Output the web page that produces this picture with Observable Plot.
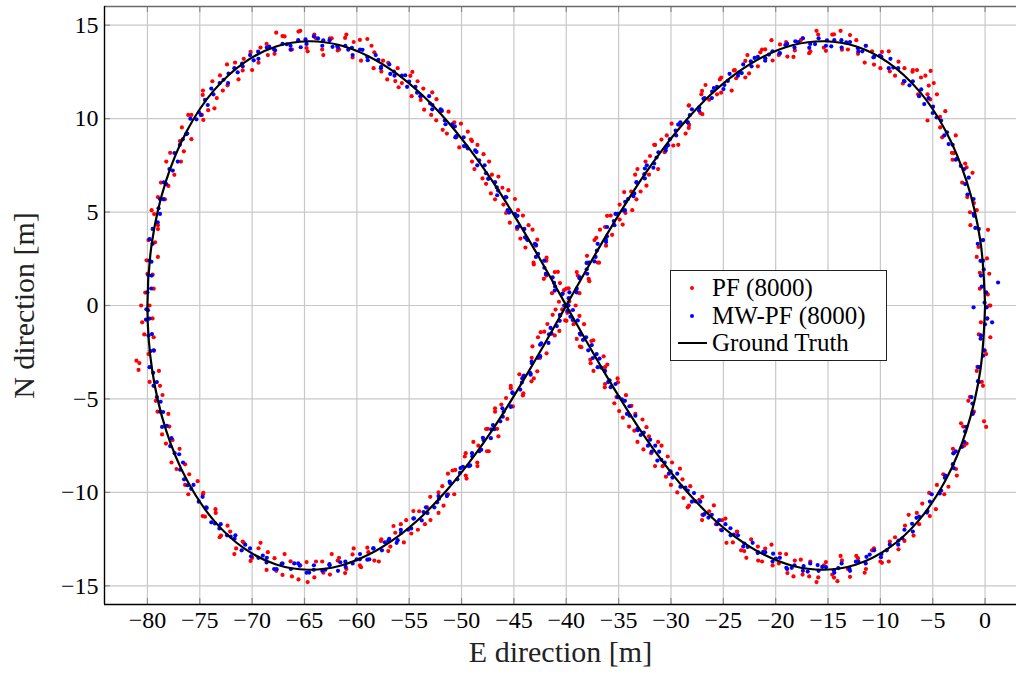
<!DOCTYPE html>
<html><head><meta charset="utf-8">
<script src="https://cdn.jsdelivr.net/npm/d3@7"></script>
<script src="https://cdn.jsdelivr.net/npm/@observablehq/plot@0.6"></script>
<style>
html,body{margin:0;padding:0;background:#fff;}
#wrap{position:relative;width:1016px;height:675px;}
#wrap svg text{font-family:"Liberation Serif","DejaVu Serif","Times New Roman",Tinos,serif !important;}
#legend{position:absolute;left:670px;top:270px;width:215px;height:89px;border:1px solid #222;background:#fff;font-family:"Liberation Serif","DejaVu Serif","Times New Roman",Tinos,serif;font-size:25px;color:#000;}
.row{position:absolute;left:0;height:27px;display:flex;align-items:center;white-space:nowrap;}
.mk{position:relative;width:41px;height:27px;}
</style></head>
<body><div id="wrap"><div id="legend"></div></div>
<script>
const xDomain = [-84.1, 3.0];
const yDomain = [-16, 16];
const xTicks = [-80,-75,-70,-65,-60,-55,-50,-45,-40,-35,-30,-25,-20,-15,-10,-5,0];
const yTicks = [-15,-10,-5,0,5,10,15];
const xLabel = "E direction [m]";
const yLabel = "N direction [m]";
const legendLabels = ["PF (8000)", "MW-PF (8000)", "Ground Truth"];

// Ground truth trajectory (E, N)
const gtE = [0,-0.45,-1.76,-3.79,-6.35,-9.24,-12.29,-15.35,-18.32,-21.14,-23.80,-26.27,-28.57,-30.72,-32.74,-34.64,-36.47,-38.25,-40,
 -41.75,-43.53,-45.36,-47.26,-49.28,-51.43,-53.73,-56.20,-58.86,-61.68,-64.65,-67.71,-70.76,-73.65,-76.21,-78.24,-79.55,-80,
 -79.55,-78.24,-76.21,-73.65,-70.76,-67.71,-64.65,-61.68,-58.86,-56.20,-53.73,-51.43,-49.28,-47.26,-45.36,-43.53,-41.75,-40,
 -38.25,-36.47,-34.64,-32.74,-30.72,-28.57,-26.27,-23.80,-21.14,-18.32,-15.35,-12.29,-9.24,-6.35,-3.79,-1.76,-0.45,0];
const gtN = [0,3.45,6.64,9.37,11.51,13.00,13.86,14.14,13.94,13.33,12.41,11.25,9.90,8.41,6.83,5.17,3.47,1.74,0,
 -1.74,-3.47,-5.17,-6.83,-8.41,-9.90,-11.25,-12.41,-13.33,-13.94,-14.14,-13.86,-13.00,-11.51,-9.37,-6.64,-3.45,0,
 3.45,6.64,9.37,11.51,13.00,13.86,14.14,13.94,13.33,12.41,11.25,9.90,8.41,6.83,5.17,3.47,1.74,0,
 -1.74,-3.47,-5.17,-6.83,-8.41,-9.90,-11.25,-12.41,-13.33,-13.94,-14.14,-13.86,-13.00,-11.51,-9.37,-6.64,-3.45,0];

// PF (8000) estimates [E, N]
const pfPoints = [
[0.26,0.59],[-0.50,1.75],[0.18,2.52],[-0.63,3.13],[0.28,4.05],[-1.44,4.99],[-1.07,5.48],[-2.19,6.58],
[-1.77,7.39],[-3.17,8.17],[-2.98,8.15],[-4.29,9.53],[-3.80,10.40],[-5.24,11.03],[-5.38,11.77],[-6.12,12.20],
[-6.93,12.51],[-7.85,11.88],[-8.27,13.05],[-9.10,12.53],[-9.85,13.57],[-10.61,12.89],[-11.38,13.90],[-12.14,13.47],
[-12.90,14.47],[-13.67,13.69],[-14.43,14.51],[-15.20,13.63],[-15.94,14.50],[-16.69,13.60],[-17.43,14.30],[-18.17,13.65],
[-18.88,13.32],[-19.59,13.97],[-20.29,13.11],[-21.00,13.71],[-21.47,13.55],[-22.54,12.42],[-22.90,13.09],[-23.77,12.16],
[-23.99,12.58],[-25.21,11.39],[-25.33,12.10],[-26.35,11.01],[-27.03,11.48],[-27.01,10.24],[-28.28,10.71],[-28.26,9.67],
[-28.60,9.20],[-29.94,9.73],[-29.78,8.56],[-30.91,8.88],[-31.52,8.59],[-31.23,7.30],[-32.43,7.70],[-32.34,6.41],
[-33.42,7.00],[-33.30,5.68],[-34.47,6.07],[-34.35,4.95],[-34.61,4.33],[-35.76,4.81],[-35.62,3.78],[-36.78,4.06],
[-37.13,3.62],[-36.87,2.29],[-38.02,2.66],[-37.86,1.43],[-39.00,1.79],[-38.74,0.66],[-39.78,0.92],[-39.71,-0.31],
[-6.50,12.60],[-5.70,12.30],[-4.90,11.90],[-4.60,11.30],[-5.20,12.55],
[-41.80,-0.99],[-40.66,-1.36],[-41.02,-0.22],[-39.89,-0.39],[-42.77,-3.52],[-43.23,-2.19],[-41.88,-2.56],[-42.44,-1.43],
[-45.29,-4.43],[-44.14,-4.81],[-44.48,-3.68],[-43.32,-4.06],[-46.48,-7.00],[-46.80,-5.68],[-45.63,-6.07],[-45.75,-4.95],
[-48.48,-8.59],[-48.87,-7.30],[-47.57,-7.80],[-47.66,-6.61],[-50.70,-10.10],[-50.86,-8.83],[-49.52,-9.26],[-49.69,-8.08],
[-52.97,-11.48],[-52.99,-10.24],[-51.72,-10.71],[-51.84,-9.67],[-55.51,-12.68],[-55.29,-11.49],[-54.17,-12.00],[-54.05,-11.01],
[-58.33,-13.65],[-57.66,-12.52],[-57.00,-13.14],[-56.33,-12.16],[-61.12,-14.32],[-60.41,-13.32],[-59.71,-13.91],[-59.00,-12.96],
[-64.06,-14.55],[-63.31,-13.70],[-62.57,-14.40],[-61.83,-13.65],[-67.10,-14.42],[-66.33,-13.69],[-65.57,-14.66],[-64.80,-13.73],
[-70.15,-13.67],[-69.39,-12.99],[-68.62,-14.15],[-67.86,-13.52],[-72.97,-12.31],[-72.35,-11.78],[-71.53,-13.00],[-70.90,-12.63],
[-76.10,-10.10],[-74.66,-10.03],[-74.72,-11.27],[-73.48,-11.10],[-78.23,-7.39],[-76.93,-7.67],[-77.22,-8.75],[-76.01,-9.03],
[-79.79,-4.09],[-78.56,-4.79],[-79.03,-5.68],[-77.91,-6.48],[-79.51,-0.69],[-80.30,-1.55],[-79.38,-2.42],[-80.77,-3.08],
[-81.05,-2.95],[-80.85,-3.45],
[-80.21,0.69],[-79.50,1.65],[-80.08,2.42],[-79.27,3.38],[-78.99,4.09],[-79.36,4.89],[-78.33,5.68],[-78.71,6.58],
[-77.43,6.99],[-77.83,8.17],[-76.52,8.25],[-76.71,9.53],[-76.10,10.20],[-74.66,9.93],[-74.72,11.27],[-73.38,11.10],
[-74.20,10.45],[-73.60,10.55],
[-73.07,12.31],[-72.35,11.78],[-71.63,13.00],[-70.90,12.58],[-70.15,13.57],[-69.39,12.99],[-68.62,14.00],[-67.86,13.47],
[-67.10,14.42],[-66.33,13.69],[-65.57,14.66],[-64.80,13.78],[-64.06,14.50],[-63.31,13.70],[-62.57,14.30],[-61.83,13.65],
[-61.12,14.32],[-60.41,13.27],[-59.71,14.21],[-59.00,14.26],[-58.33,13.55],[-57.66,12.52],[-57.00,12.99],[-56.33,12.01],
[-56.01,11.68],[-54.89,12.29],[-54.77,11.20],[-53.65,11.61],[-53.57,10.48],[-52.39,11.04],[-52.42,9.91],[-51.24,10.37],
[-51.40,9.20],[-50.06,9.73],[-50.22,8.46],[-49.09,8.88],[-48.48,8.59],[-48.77,7.30],[-47.37,7.70],[-47.66,6.51],
[-46.48,6.90],[-46.80,5.68],[-45.53,6.17],[-45.75,4.95],[-45.39,4.43],[-44.14,4.81],[-44.38,3.58],[-43.22,4.06],
[-42.77,3.52],[-43.13,2.29],[-41.88,2.56],[-42.14,1.43],[-41.10,1.79],[-41.36,0.66],[-40.22,0.82],[-40.39,-0.21],
[-39.00,-1.79],[-38.74,-0.56],[-39.98,-0.82],[-39.71,0.21],[-36.43,-2.72],[-37.67,-3.09],[-37.42,-1.86],[-38.56,-2.23],
[-35.41,-5.23],[-35.06,-4.11],[-36.32,-4.38],[-36.08,-3.16],[-32.72,-6.10],[-34.00,-6.48],[-33.77,-5.37],[-34.95,-5.65],
[-31.52,-8.59],[-31.23,-7.30],[-32.63,-7.70],[-32.34,-6.51],[-29.40,-10.00],[-29.14,-8.73],[-30.48,-9.16],[-30.31,-8.08],
[-27.03,-11.48],[-27.01,-10.24],[-28.28,-10.71],[-28.16,-9.67],[-24.09,-12.68],[-25.11,-11.49],[-25.23,-12.00],[-26.35,-11.01],
[-21.67,-13.65],[-22.34,-12.52],[-23.00,-13.14],[-23.67,-12.11],[-18.88,-14.32],[-19.59,-13.27],[-20.29,-13.91],[-21.00,-13.01],
[-15.94,-14.55],[-16.69,-13.70],[-17.43,-14.40],[-18.17,-13.65],[-12.90,-14.52],[-13.67,-13.64],[-14.43,-14.56],[-15.20,-13.73],
[-14.10,-14.75],
[-9.85,-13.77],[-10.61,-12.99],[-11.38,-14.10],[-12.14,-13.52],[-6.83,-12.31],[-7.65,-11.78],[-8.27,-13.05],[-9.10,-12.63],
[-3.90,-10.10],[-5.34,-10.03],[-5.28,-11.27],[-6.52,-11.10],[-1.77,-7.39],[-3.07,-7.67],[-2.78,-8.75],[-3.99,-9.03],
[-0.31,-4.09],[-1.44,-4.89],[-1.07,-5.68],[-2.09,-6.48],[-0.10,-6.20],[0.10,-6.50],
[0.21,-0.69],[-0.60,-1.55],[-0.02,-2.42],[-0.73,-3.28],
[0.5,0.0],[-0.5,0.9],[0.4,1.7],[-0.8,2.6],[-0.2,3.5],[-1.4,4.3],[-0.8,5.1],[-1.7,5.8],
[-1.2,7.1],[-1.9,7.6],[-3.1,7.8],[-2.8,9.1],[-4.1,9.0],[-4.3,10.1],[-5.5,9.9],[-5.5,11.3],
[-6.4,11.3],[-6.9,12.6],[-7.7,12.7],[-8.6,12.3],[-9.2,13.6],[-10.0,12.7],[-10.8,13.6],[-11.5,13.0],
[-12.3,14.2],[-13.1,13.7],[-13.8,14.7],[-14.6,14.5],[-15.4,13.8],[-16.1,14.7],[-16.8,13.5],[-17.6,14.2],
[-18.3,13.3],[-19.0,14.1],[-19.7,13.4],[-20.4,14.2],[-21.3,13.7],[-21.7,12.8],[-22.7,13.4],[-22.9,12.2],
[-23.9,12.6],[-24.2,11.5],[-25.2,12.2],[-25.6,11.3],[-26.7,11.8],[-27.1,11.3],[-27.2,10.3],[-28.3,10.7],
[-28.3,9.5],[-29.2,9.7],[-29.3,8.6],[-30.4,9.1],[-30.6,8.2],[-31.6,8.6],[-32.0,8.0],[-32.1,7.0],
[-33.2,7.3],[-32.9,6.1],[-33.8,6.1],[-33.7,5.1],[-34.9,5.4],[-34.9,4.6],[-36.1,4.8],[-36.3,4.2],
[-36.2,3.2],[-37.3,3.5],[-37.0,2.3],[-38.0,2.3],[-37.8,1.3],[-38.9,1.6],[-39.0,0.7],[-40.0,0.9],
[-79.8,0.0],[-80.5,-0.9],[-79.4,-1.7],[-79.9,-2.6],[-78.9,-3.5],[-78.8,-4.3],[-79.2,-5.1],[-78.0,-5.8],
[-78.6,-6.9],[-77.6,-7.2],[-77.7,-8.4],[-76.4,-8.5],[-76.4,-9.6],[-75.2,-9.4],[-74.7,-10.1],[-74.5,-11.3],
[-73.5,-10.9],[-73.1,-12.4],[-72.1,-12.1],[-71.7,-13.3],[-70.8,-12.7],[-70.0,-13.5],[-69.2,-12.7],[-68.5,-13.2],
[-67.7,-14.2],[-66.9,-13.3],[-66.2,-14.5],[-65.4,-13.9],[-64.7,-14.8],[-63.9,-13.7],[-63.2,-14.3],[-62.4,-13.3],
[-61.7,-13.5],[-61.0,-14.1],[-60.3,-13.0],[-59.6,-14.0],[-58.9,-13.2],[-57.9,-13.7],[-57.7,-12.6],[-56.8,-12.9],
[-56.5,-11.8],[-55.8,-11.7],[-54.8,-12.2],[-54.6,-11.0],[-53.5,-11.7],[-53.3,-10.8],[-52.2,-11.1],[-52.2,-10.0],
[-51.3,-10.1],[-51.3,-9.0],[-50.6,-8.8],[-49.6,-9.1],[-49.6,-7.9],[-48.5,-8.4],[-48.4,-7.5],[-47.4,-7.8],
[-47.5,-6.6],[-46.6,-6.6],[-46.8,-5.5],[-46.2,-5.3],[-45.1,-5.4],[-45.3,-4.3],[-44.1,-4.7],[-44.1,-3.8],
[-43.1,-3.9],[-43.3,-2.8],[-42.5,-2.8],[-42.7,-1.7],[-42.1,-1.4],[-41.1,-1.6],[-41.3,-0.5],[-40.1,-0.8],
[-80.6,0.0],[-79.4,0.9],[-80.0,1.7],[-79.0,2.6],[-79.9,3.5],[-79.0,4.3],[-79.6,5.1],[-79.0,5.8],
[-78.0,6.4],[-78.2,7.7],[-76.8,7.7],[-76.9,8.8],[-75.8,8.9],[-75.8,10.2],[-74.8,10.2],[-74.7,11.5],
[-73.8,12.0],[-72.8,11.5],[-72.4,12.9],[-71.3,12.1],[-70.8,13.2],[-70.0,12.6],[-69.2,13.8],[-68.5,13.4],
[-67.7,14.6],[-66.9,14.4],[-66.2,13.7],[-65.4,14.7],[-64.7,13.6],[-63.9,14.3],[-63.2,13.4],[-62.4,14.3],
[-61.7,13.7],[-61.0,14.5],[-60.3,14.1],[-59.6,13.1],[-58.6,13.9],[-58.4,12.7],[-57.5,13.1],[-57.1,12.1],
[-56.1,12.7],[-55.7,11.9],[-54.7,12.5],[-54.2,12.0],[-53.9,11.0],[-52.8,11.4],[-52.9,10.2],[-51.9,10.4],
[-51.8,9.4],[-50.7,9.8],[-50.5,9.0],[-49.4,9.3],[-49.0,8.8],[-49.0,7.7],[-47.9,8.1],[-48.0,6.8],
[-47.1,7.0],[-47.2,6.0],[-46.1,6.3],[-46.0,5.4],[-44.9,5.7],[-44.6,5.1],[-44.7,4.1],[-43.6,4.3],
[-43.9,3.1],[-42.9,3.2],[-43.1,2.2],[-41.9,2.4],[-41.9,1.6],[-40.8,1.8],[-40.6,1.2],[-40.7,0.2],
[0.4,0.0],[-0.4,-0.9],[0.5,-1.7],[0.1,-2.6],[-0.8,-3.5],[-0.2,-4.3],[-1.6,-5.1],[-1.2,-5.8],
[-2.3,-6.3],[-2.0,-7.5],[-3.0,-7.9],[-2.7,-9.1],[-3.5,-9.7],[-4.6,-9.6],[-4.7,-10.9],[-6.0,-10.6],
[-6.3,-11.7],[-7.3,-11.2],[-7.7,-12.6],[-8.6,-12.4],[-9.2,-13.7],[-10.0,-13.7],[-10.8,-13.1],[-11.5,-14.3],
[-12.3,-13.4],[-13.1,-14.1],[-13.8,-13.4],[-14.6,-14.4],[-15.4,-13.9],[-16.1,-14.8],[-16.8,-14.5],[-17.6,-13.6],
[-18.3,-14.5],[-19.0,-13.3],[-19.7,-13.8],[-20.4,-12.8],[-21.3,-13.7],[-21.7,-12.9],[-22.8,-13.5],[-23.3,-13.1],
[-23.7,-12.1],[-24.7,-12.7],[-24.8,-11.4],[-25.7,-11.7],[-25.9,-10.7],[-27.0,-11.2],[-27.3,-10.4],[-28.4,-10.8],
[-28.8,-10.3],[-28.9,-9.3],[-30.0,-9.6],[-29.9,-8.4],[-30.8,-8.6],[-30.9,-7.5],[-31.9,-7.9],[-32.1,-7.0],
[-33.2,-7.3],[-33.5,-6.7],[-33.4,-5.8],[-34.6,-6.0],[-34.3,-4.8],[-35.2,-4.9],[-35.1,-3.9],[-36.3,-4.2],
[-36.3,-3.3],[-37.4,-3.5],[-37.7,-2.9],[-37.6,-1.9],[-38.7,-2.2],[-38.3,-1.0],[-39.3,-1.0],[-39.1,0.0]
];

// MW-PF (8000) estimates [E, N]
const mwPoints = [
[0.15,-0.10],[-0.31,1.01],[-0.13,1.93],[-0.44,2.39],[-0.20,3.50],[-0.93,4.15],[-1.06,4.80],[-1.68,5.94],
[-1.56,6.84],[-2.32,7.47],[-2.68,7.86],[-3.48,8.64],[-3.64,9.27],[-4.63,10.06],[-4.97,10.64],[-5.81,10.78],
[-6.10,11.56],[-7.22,11.78],[-7.75,12.01],[-8.77,12.73],[-9.04,13.20],[-10.05,13.37],[-10.67,13.28],[-11.73,13.60],
[-12.14,13.76],[-13.26,14.08],[-13.72,14.20],[-14.69,13.87],[-15.10,14.19],[-16.24,13.99],[-16.79,13.79],[-17.83,14.09],
[-18.12,14.14],[-19.08,13.94],[-19.63,13.49],[-20.64,13.43],[-20.99,13.23],[-22.01,13.25],[-22.37,13.07],[-23.24,12.44],
[-23.55,12.46],[-24.57,12.02],[-24.99,11.58],[-25.90,11.64],[-26.07,11.45],[-26.90,11.06],[-27.32,10.43],[-28.20,10.19],
[-28.42,9.80],[-29.31,9.68],[-29.55,9.36],[-30.28,8.58],[-30.47,8.46],[-31.38,7.92],[-31.68,7.37],[-32.49,7.33],
[-32.54,7.03],[-33.27,6.57],[-33.59,5.85],[-34.37,5.54],[-34.49,5.07],[-35.30,4.90],[-35.46,4.52],[-36.11,3.70],
[-36.22,3.52],[-37.07,2.94],[-37.31,2.36],[-38.06,2.27],[-38.05,1.94],[-38.74,1.46],[-39.03,0.72],[-39.76,0.39],
[-79.95,-0.25],[-80.14,-0.76],[-79.57,-1.53],[-79.71,-2.44],[-79.45,-3.60],[-79.42,-4.30],[-78.74,-5.15],[-78.77,-5.69],
[-78.14,-6.44],[-77.83,-7.52],[-76.97,-7.96],[-76.87,-8.79],[-76.16,-9.62],[-75.82,-9.81],[-74.73,-10.24],[-74.34,-10.83],
[-73.55,-11.66],[-73.13,-11.93],[-72.05,-12.36],[-71.68,-12.48],[-70.66,-12.80],[-70.10,-13.42],[-68.98,-13.38],[-68.62,-13.75],
[-67.66,-14.11],[-67.19,-13.83],[-65.98,-13.80],[-65.46,-13.92],[-64.55,-14.29],[-64.11,-14.14],[-63.01,-14.14],[-62.62,-13.84],
[-61.58,-13.74],[-61.07,-13.99],[-60.02,-13.59],[-59.71,-13.58],[-58.81,-13.58],[-58.44,-13.00],[-57.33,-12.67],[-56.91,-12.49],
[-56.10,-12.56],[-55.78,-12.17],[-54.81,-11.93],[-54.55,-11.39],[-53.63,-11.05],[-53.25,-11.11],[-52.33,-10.53],[-52.15,-10.34],
[-51.38,-10.15],[-51.14,-9.43],[-50.15,-8.96],[-49.87,-8.63],[-49.18,-8.56],[-48.97,-8.07],[-48.12,-7.72],[-47.96,-7.08],
[-47.16,-6.63],[-46.88,-6.62],[-46.06,-5.95],[-45.98,-5.69],[-45.31,-5.42],[-45.15,-4.65],[-44.24,-4.12],[-44.04,-3.75],
[-43.43,-3.62],[-43.28,-3.09],[-42.49,-2.71],[-42.39,-2.02],[-41.65,-1.54],[-41.41,-1.51],[-40.62,-0.82],[-40.59,-0.54],
[-80.10,-0.20],[-79.64,0.91],[-79.92,1.63],[-79.61,2.34],[-79.80,3.55],[-79.02,4.45],[-78.94,5.20],[-78.47,5.69],
[-78.44,6.59],[-77.58,7.22],[-77.42,8.16],[-76.62,8.89],[-76.31,9.17],[-75.32,9.96],[-75.08,10.34],[-74.24,10.73],
[-73.90,11.61],[-72.73,12.08],[-72.25,12.41],[-71.38,12.48],[-70.96,12.95],[-69.85,13.12],[-69.43,13.58],[-68.37,13.85],
[-67.81,13.66],[-66.69,13.98],[-66.33,13.90],[-65.36,13.82],[-64.90,14.24],[-63.71,14.29],[-63.21,14.19],[-62.32,13.84],
[-61.88,13.89],[-60.82,13.69],[-60.47,13.79],[-59.46,13.68],[-58.96,13.13],[-57.94,13.15],[-57.68,12.77],[-56.81,12.39],
[-56.45,12.51],[-55.38,12.32],[-55.01,11.98],[-54.25,11.39],[-53.93,11.20],[-53.00,10.81],[-52.78,10.73],[-51.90,10.44],
[-51.53,9.70],[-50.64,9.58],[-50.50,9.06],[-49.77,8.53],[-49.53,8.51],[-48.57,8.22],[-48.32,7.77],[-47.66,7.08],
[-47.46,6.78],[-46.63,6.32],[-46.51,6.15],[-45.73,5.79],[-45.46,4.97],[-44.65,4.80],[-44.59,4.22],[-43.94,3.65],
[-43.78,3.57],[-42.88,3.24],[-42.69,2.76],[-42.09,2.02],[-41.95,1.69],[-41.16,1.21],[-41.07,1.02],[-40.34,0.64],
[-0.05,0.15],[-0.01,-1.01],[-0.43,-1.78],[-0.19,-2.69],[-0.65,-3.30],[-0.68,-4.05],[-1.21,-5.25],[-1.18,-5.79],
[-1.91,-6.74],[-2.22,-7.57],[-3.03,-7.91],[-3.08,-8.49],[-3.84,-9.22],[-4.33,-10.06],[-5.27,-10.49],[-5.56,-11.08],
[-6.55,-11.36],[-6.97,-11.68],[-7.90,-12.46],[-8.27,-12.58],[-9.39,-13.10],[-9.95,-13.47],[-11.02,-13.33],[-11.33,-13.45],
[-12.34,-13.71],[-12.96,-14.08],[-14.02,-14.05],[-14.44,-14.17],[-15.55,-13.99],[-15.99,-13.89],[-16.94,-14.24],[-17.33,-13.94],
[-18.47,-14.04],[-18.98,-14.04],[-19.98,-13.54],[-20.24,-13.28],[-21.19,-13.18],[-21.71,-13.25],[-22.67,-12.92],[-22.99,-12.74],
[-24.00,-12.26],[-24.32,-11.92],[-25.14,-12.03],[-25.40,-11.49],[-26.42,-11.35],[-26.80,-11.16],[-27.67,-10.48],[-27.80,-10.04],
[-28.62,-9.75],[-29.01,-9.68],[-29.85,-9.21],[-30.03,-8.88],[-30.92,-8.26],[-31.13,-7.82],[-31.83,-7.82],[-31.99,-7.18],
[-32.89,-6.93],[-33.17,-6.67],[-33.94,-5.90],[-33.97,-5.39],[-34.69,-5.02],[-35.00,-4.90],[-35.76,-4.37],[-35.86,-4.00],
[-36.67,-3.32],[-36.82,-2.84],[-37.46,-2.81],[-37.56,-2.12],[-38.40,-1.84],[-38.64,-1.56],[-39.38,-0.77],[-39.36,-0.24],
[1.24,1.23],[0.67,-0.90],[-1.10,-0.10],
[0.1,0.7],[-0.4,1.6],[-0.2,2.4],[-0.7,3.3],[-0.6,4.1],[-1.1,4.9],[-1.1,5.7],[-1.9,6.5],
[-2.0,7.3],[-2.8,7.8],[-3.1,8.6],[-3.9,9.1],[-4.2,9.9],[-5.0,10.3],[-5.4,11.1],[-6.3,11.2],
[-6.9,12.0],[-7.7,12.0],[-8.3,12.7],[-9.2,12.7],[-9.9,13.3],[-10.6,13.3],[-11.4,13.9],[-12.1,13.6],
[-12.9,14.1],[-13.7,13.8],[-14.4,14.2],[-15.2,13.9],[-15.9,14.3],[-16.7,14.0],[-17.4,14.3],[-18.2,13.8],
[-18.9,14.0],[-19.6,13.5],[-20.3,13.6],[-21.0,13.1],[-21.7,13.3],[-22.3,12.8],[-23.1,12.9],[-23.6,12.3],
[-24.4,12.4],[-24.9,11.8],[-25.6,11.7],[-26.1,11.1],[-26.8,11.1],[-27.3,10.6],[-28.0,10.5],[-28.4,9.8],
[-29.1,9.8],[-29.5,9.1],[-30.1,8.9],[-30.5,8.3],[-31.2,8.2],[-31.6,7.6],[-32.3,7.5],[-32.5,6.8],
[-33.3,6.6],[-33.5,6.0],[-34.1,5.7],[-34.4,5.1],[-35.1,4.9],[-35.4,4.3],[-36.1,4.2],[-36.2,3.4],
[-37.0,3.3],[-37.2,2.6],[-37.8,2.3],[-38.0,1.7],[-38.7,1.5],[-39.0,0.9],[-39.7,0.7],[-39.8,0.0],
[-79.8,-0.7],[-79.9,-1.6],[-79.4,-2.4],[-79.8,-3.3],[-79.1,-4.1],[-79.1,-4.9],[-78.5,-5.7],[-78.6,-6.5],
[-77.7,-7.1],[-77.4,-7.9],[-76.6,-8.4],[-76.5,-9.3],[-75.6,-9.6],[-75.1,-10.5],[-74.4,-10.8],[-73.9,-11.6],
[-73.0,-11.7],[-72.4,-12.3],[-71.6,-12.3],[-71.0,-13.1],[-70.2,-13.0],[-69.4,-13.5],[-68.6,-13.5],[-67.9,-14.1],
[-67.1,-13.8],[-66.3,-14.1],[-65.6,-13.8],[-64.8,-14.3],[-64.1,-13.9],[-63.3,-14.2],[-62.6,-13.9],[-61.8,-14.2],
[-61.1,-13.7],[-60.4,-13.8],[-59.7,-13.3],[-59.0,-13.6],[-58.4,-13.0],[-57.6,-13.1],[-57.0,-12.6],[-56.2,-12.7],
[-55.8,-12.0],[-55.1,-12.0],[-54.6,-11.4],[-53.8,-11.5],[-53.4,-10.8],[-52.6,-10.8],[-52.2,-10.2],[-51.4,-10.2],
[-51.1,-9.5],[-50.4,-9.3],[-50.1,-8.7],[-49.3,-8.6],[-49.0,-7.9],[-48.3,-7.8],[-47.9,-7.2],[-47.2,-7.1],
[-47.0,-6.4],[-46.3,-6.2],[-46.1,-5.5],[-45.3,-5.4],[-45.1,-4.7],[-44.4,-4.5],[-44.2,-3.9],[-43.4,-3.7],
[-43.3,-3.0],[-42.7,-2.8],[-42.5,-2.1],[-41.7,-2.0],[-41.5,-1.2],[-40.9,-1.1],[-40.6,-0.5],[-39.9,-0.3],
[-80.0,0.7],[-79.6,1.6],[-79.8,2.4],[-79.5,3.3],[-79.5,4.1],[-78.8,4.9],[-78.8,5.7],[-78.2,6.5],
[-77.9,7.3],[-77.1,7.7],[-76.9,8.6],[-76.2,9.2],[-75.9,10.0],[-74.9,10.2],[-74.5,11.0],[-73.7,11.3],
[-73.1,11.9],[-72.3,11.9],[-71.7,12.7],[-70.9,12.8],[-70.2,13.4],[-69.4,13.2],[-68.6,13.8],[-67.9,13.7],
[-67.1,14.0],[-66.3,13.7],[-65.6,14.2],[-64.8,14.0],[-64.1,14.4],[-63.3,13.9],[-62.6,14.2],[-61.8,13.8],
[-61.1,13.9],[-60.4,13.4],[-59.7,13.7],[-59.0,13.3],[-58.2,13.4],[-57.7,12.7],[-56.9,12.9],[-56.4,12.3],
[-55.7,12.3],[-55.2,11.7],[-54.4,11.7],[-53.9,11.2],[-53.1,11.2],[-52.8,10.5],[-52.0,10.5],[-51.6,9.9],
[-50.9,9.7],[-50.6,9.0],[-49.8,9.0],[-49.4,8.4],[-48.7,8.3],[-48.5,7.5],[-47.8,7.5],[-47.4,6.8],
[-46.8,6.6],[-46.6,5.9],[-45.8,5.8],[-45.6,5.1],[-44.9,4.9],[-44.7,4.2],[-44.0,4.1],[-43.7,3.5],
[-43.0,3.3],[-42.9,2.6],[-42.1,2.4],[-41.9,1.7],[-41.3,1.5],[-41.1,0.8],[-40.4,0.6],[-40.2,0.0],
[0.2,-0.7],[-0.4,-1.6],[-0.1,-2.4],[-0.6,-3.3],[-0.6,-4.1],[-1.3,-4.9],[-1.2,-5.7],[-1.8,-6.5],
[-2.0,-7.3],[-2.8,-7.8],[-3.0,-8.7],[-3.8,-9.1],[-4.2,-9.9],[-5.1,-10.1],[-5.5,-11.0],[-6.3,-11.3],
[-6.9,-12.1],[-7.7,-12.0],[-8.3,-12.8],[-9.1,-12.8],[-9.9,-13.3],[-10.6,-13.1],[-11.4,-13.8],[-12.1,-13.7],
[-12.9,-14.2],[-13.7,-13.8],[-14.4,-14.3],[-15.2,-14.0],[-15.9,-14.2],[-16.7,-13.8],[-17.4,-14.2],[-18.2,-13.9],
[-18.9,-14.1],[-19.6,-13.5],[-20.3,-13.7],[-21.0,-13.2],[-21.7,-13.2],[-22.2,-12.7],[-23.1,-12.9],[-23.6,-12.3],
[-24.3,-12.3],[-24.8,-11.7],[-25.6,-11.7],[-26.1,-11.2],[-26.9,-11.2],[-27.2,-10.5],[-28.0,-10.5],[-28.4,-9.9],
[-29.1,-9.7],[-29.4,-9.0],[-30.2,-9.0],[-30.6,-8.4],[-31.3,-8.3],[-31.5,-7.5],[-32.2,-7.5],[-32.6,-6.8],
[-33.2,-6.6],[-33.4,-5.9],[-34.2,-5.8],[-34.4,-5.1],[-35.1,-4.9],[-35.3,-4.2],[-36.0,-4.1],[-36.3,-3.5],
[-37.0,-3.3],[-37.1,-2.6],[-37.9,-2.4],[-38.1,-1.7],[-38.7,-1.5],[-38.9,-0.8],[-39.6,-0.6],[-39.8,0.0]
];

const colors = {pf: "#ff0000", mw: "#0000ff", gt: "#000000"};
const gt = gtE.map((e, i) => ({e, n: gtN[i]}));
const font = "'Liberation Serif', 'DejaVu Serif', 'Times New Roman', Tinos, serif";

const chart = Plot.plot({
  width: 1016, height: 675,
  marginLeft: 104, marginRight: 0, marginTop: 6, marginBottom: 71,
  x: {domain: xDomain},
  y: {domain: yDomain},
  style: {fontFamily: font, fontSize: "24px", color: "#000", background: "#fff"},
  marks: [
    Plot.ruleX(xTicks, {stroke: "#c8c8c8", strokeWidth: 1.2}),
    Plot.ruleY(yTicks, {stroke: "#c8c8c8", strokeWidth: 1.2}),
    Plot.ruleX(xTicks, {stroke: "#8c8c8c", strokeWidth: 1.2, insetTop: 592}),
    Plot.ruleX(xTicks, {stroke: "#8c8c8c", strokeWidth: 1.2, insetBottom: 592}),
    Plot.ruleY(yTicks, {stroke: "#8c8c8c", strokeWidth: 1.2, insetRight: 906}),
    Plot.dot(pfPoints, {x: d => d[0], y: d => d[1], r: 2.1, fill: colors.pf, stroke: null}),
    Plot.dot(mwPoints, {x: d => d[0], y: d => d[1], r: 2.1, fill: colors.mw, stroke: null}),
    Plot.line(gt, {x: "e", y: "n", curve: "catmull-rom", stroke: colors.gt, strokeWidth: 2.2}),
    Plot.ruleY([yDomain[1]], {stroke: "#6a6a6a", strokeWidth: 1.6}),
    Plot.ruleX([xDomain[0]], {stroke: "#000", strokeWidth: 1.4}),
    Plot.ruleY([yDomain[0]], {stroke: "#000", strokeWidth: 1.4}),
    Plot.axisX(xTicks, {tickSize: 0, tickPadding: 6, fontSize: 24, fontFamily: font, label: null}),
    Plot.axisY(yTicks, {tickSize: 0, tickPadding: 6, fontSize: 24, fontFamily: font, label: null}),
    Plot.text([xLabel], {frameAnchor: "bottom", dy: 57, fontSize: 30, fontFamily: font, fill: "#222"}),
    Plot.text([yLabel], {frameAnchor: "left", textAnchor: "middle", rotate: -90, dx: -80, fontSize: 30, fontFamily: font, fill: "#222"})
  ]
});
const wrap = document.getElementById("wrap");
wrap.insertBefore(chart, wrap.firstChild);

// legend
const legend = document.getElementById("legend");
const rowCenters = [17, 45, 72];
const markers = [
  `<span style="position:absolute;left:19px;top:11.5px;width:4px;height:4px;border-radius:50%;background:${colors.pf}"></span>`,
  `<span style="position:absolute;left:19px;top:11.5px;width:4px;height:4px;border-radius:50%;background:${colors.mw}"></span>`,
  `<span style="position:absolute;left:7px;top:12.5px;width:29px;height:2px;background:${colors.gt}"></span>`
];
legendLabels.forEach((lab, i) => {
  const row = document.createElement("div");
  row.className = "row";
  row.style.top = (rowCenters[i] - 13.5) + "px";
  row.innerHTML = `<div class="mk">${markers[i]}</div><span>${lab}</span>`;
  legend.appendChild(row);
});
</script>
</body></html>
